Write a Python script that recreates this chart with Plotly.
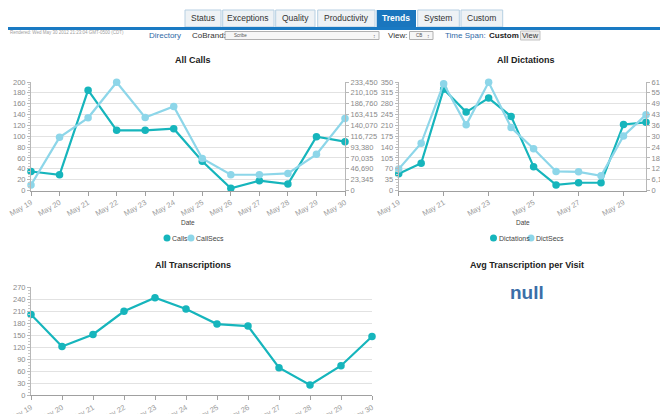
import plotly.graph_objects as go

# ---------------- data ----------------
dates = ["May 19", "May 20", "May 21", "May 22", "May 23", "May 24",
         "May 25", "May 26", "May 27", "May 28", "May 29", "May 30"]
calls = [35, 29, 185, 111, 111, 114, 54, 4, 18, 12, 99, 90]
call_secs = [12000, 114400, 156400, 233000, 157100, 180900, 69000, 33900, 33900, 36800, 77800, 155000]
dictations = [54, 88, 327, 253, 298, 239, 77, 18, 25, 25, 213, 220]
dict_secs = [12140, 26750, 60550, 37200, 61300, 35700, 23700, 10800, 10600, 8350, 30900, 43000]
transcriptions = [202, 122, 152, 210, 244, 216, 178, 173, 69, 26, 74, 147]
tabs = ["Status", "Exceptions", "Quality", "Productivity", "Trends", "System", "Custom"]
active_tab = "Trends"
avg_per_visit = "null"

# The page body has an 8px margin; the figure fills the rest of the 668x414 window.
OFF = 8
W, H = 668 - OFF, 414 - OFF
def px(x): return (x - OFF) / W
def py(y): return 1 - (y - OFF) / H

DARK = "#16b5bc"
LIGHT = "#8dd6e9"
TICKC = "#8a8a8a"
GRID = "#e2e2e2"
FONT = "Liberation Sans, Arial, sans-serif"

fig = go.Figure()

def line(x, y, color, xa, ya, name):
    fig.add_trace(go.Scatter(x=x, y=y, mode="lines+markers", name=name,
                             line=dict(color=color, width=2.2),
                             marker=dict(color=color, size=7.5),
                             xaxis=xa, yaxis=ya, showlegend=False, cliponaxis=False))

# draw light series first, dark on top where overlapping
line(dates, call_secs, LIGHT, "x", "y2", "CallSecs")
line(dates, calls, DARK, "x", "y", "Calls")
line(dates, dict_secs, LIGHT, "x2", "y4", "DictSecs")
line(dates, dictations, DARK, "x2", "y3", "Dictations")
line(dates, transcriptions, DARK, "x3", "y5", "Transcriptions")

tickfont = dict(family=FONT, size=7.5, color=TICKC)
xtickfont = dict(family=FONT, size=7.5, color="#9a9a9a")

def xaxis_cfg(domain, anchor, dtick=1):
    return dict(domain=domain, anchor=anchor, type="category", range=[0, 11],
                tickmode="linear", tick0=0, dtick=dtick, tickangle=-30,
                showgrid=False, showline=True, linecolor="#a0a0a0", linewidth=1,
                ticks="outside", ticklen=4, tickcolor="#a0a0a0", automargin=False,
                tickfont=xtickfont, fixedrange=True)

def yleft(domain, anchor, rng, dtick):
    return dict(domain=domain, anchor=anchor, range=rng, dtick=dtick, tick0=0,
                showgrid=True, gridcolor=GRID, gridwidth=1,
                showline=True, linecolor="#b8b8b8", linewidth=1,
                ticks="outside", ticklen=3, tickcolor="#b8b8b8", automargin=False,
                minor=dict(ticks="outside", ticklen=2, dtick=dtick / 4, tickcolor="#c8c8c8"),
                zeroline=False, tickfont=tickfont, fixedrange=True)

def yright(overlay, anchor, rng, dtick):
    return dict(overlaying=overlay, anchor=anchor, side="right", range=rng, dtick=dtick, tick0=0,
                tickformat=",.0f", showgrid=False, showline=True, linecolor="#b8b8b8",
                ticks="outside", ticklen=3, tickcolor="#b8b8b8", automargin=False,
                zeroline=False, tickfont=tickfont, fixedrange=True)

top_y = [py(190.5), py(82)]
bot_y = [py(395.3), py(287.3)]

fig.update_layout(
    width=W, height=H, margin=dict(l=0, r=0, t=0, b=0, autoexpand=False),
    paper_bgcolor="white", plot_bgcolor="white",
    font=dict(family=FONT),
    xaxis=xaxis_cfg([px(31), px(345)], "y"),
    yaxis=yleft(top_y, "x", [0, 200], 20),
    yaxis2=yright("y", "x", [0, 233450], 23345),
    xaxis2=xaxis_cfg([px(398.7), px(646)], "y3", dtick=2),
    yaxis3=yleft(top_y, "x2", [0, 350], 35),
    yaxis4=yright("y3", "x2", [0, 61497], 6149.7),
    xaxis3=xaxis_cfg([px(31), px(372)], "y5"),
    yaxis5=yleft(bot_y, "x3", [0, 270], 30),
    showlegend=False,
)

shapes = []
ann = []

def text(x, y, s, size=9, color="#222", bold=False, xanchor="left", yanchor="middle", family=FONT):
    ann.append(dict(x=px(x), y=py(y), xref="paper", yref="paper", text=(f"<b>{s}</b>" if bold else s),
                    showarrow=False, xanchor=xanchor, yanchor=yanchor,
                    font=dict(size=size, color=color, family=family)))

def rect(x0, y0, x1, y1, fill, linecolor=None, lw=1):
    shapes.append(dict(type="rect", xref="paper", yref="paper", x0=px(x0), x1=px(x1),
                       y0=py(y1), y1=py(y0), fillcolor=fill,
                       line=dict(color=linecolor or fill, width=lw if linecolor else 0), layer="above"))

# ---------------- header tabs ----------------
tab_x = [(185, 221), (222.7, 274), (275.7, 315), (317.7, 375), (376.7, 416), (417.7, 459.3), (461, 502.7)]
for name, (x0, x1) in zip(tabs, tab_x):
    if name == active_tab:
        rect(x0, 10, x1, 28, "#1a76be")
        text((x0 + x1) / 2, 18.5, name, size=8.5, color="white", bold=True, xanchor="center")
    else:
        rect(x0, 10, x1, 27, "#eef2f5", "#b6cfe2")
        text((x0 + x1) / 2, 18.5, name, size=8.5, color="#333", xanchor="center")
rect(8, 27, 668, 30, "#1a7ac3")

# toolbar
text(8, 32, "Rendered: Wed May 30 2012 21:23:04 GMT-0500 (CDT)", size=4.5, color="#a0a0a0")
text(146.5, 35.5, "Directory", size=8, color="#2f6aa6")
text(190.5, 35.5, "CoBrand:", size=8, color="#333")
rect(225, 31.5, 379, 39.5, "#f6f6f6", "#b0b0b0")
text(232, 35.5, "Scribe", size=4.5, color="#555")
text(374, 35.5, "↕", size=5, color="#777", xanchor="center")
text(385.5, 35.5, "View:", size=8, color="#333")
rect(409.5, 31.5, 433, 39.5, "#f6f6f6", "#b0b0b0")
text(414, 35.5, "CB", size=4.5, color="#555")
text(428.5, 35.5, "↕", size=5, color="#777", xanchor="center")
text(443.5, 35.5, "Time Span:", size=8, color="#2f6aa6")
text(486.5, 35.5, "Custom", size=8, color="#222", bold=True)
rect(520.5, 31, 540, 40, "#ececec", "#c4c4c4")
text(530.3, 35.5, "View", size=7.5, color="#333", xanchor="center")

# ---------------- chart titles ----------------
text(193, 60, "All Calls", size=9, color="#222", bold=True, xanchor="center")
text(526, 60, "All Dictations", size=9, color="#222", bold=True, xanchor="center")
text(192.5, 265, "All Transcriptions", size=9, color="#222", bold=True, xanchor="center")
text(526.5, 265, "Avg Transcription per Visit", size=9, color="#222", bold=True, xanchor="center")
text(527, 292.5, avg_per_visit, size=19, color="#3b6ea8", bold=True, xanchor="center")

text(188, 222, "Date", size=6.5, color="#444", xanchor="center")
text(522.7, 222, "Date", size=6.5, color="#444", xanchor="center")

# ---------------- legends ----------------
def legend_item(cx, cy, color, label):
    shapes.append(dict(type="circle", xref="paper", yref="paper",
                       x0=px(cx - 3.5), x1=px(cx + 3.5), y0=py(cy + 3.5), y1=py(cy - 3.5),
                       fillcolor=color, line=dict(width=0), layer="above"))
    text(cx + 3, cy, label, size=7, color="#444")

legend_item(167, 238, DARK, "Calls")
legend_item(191, 238, LIGHT, "CallSecs")
legend_item(493.5, 238, DARK, "Dictations")
legend_item(531, 238, LIGHT, "DictSecs")

fig.update_layout(shapes=shapes, annotations=ann)
fig.write_html("out.html")
